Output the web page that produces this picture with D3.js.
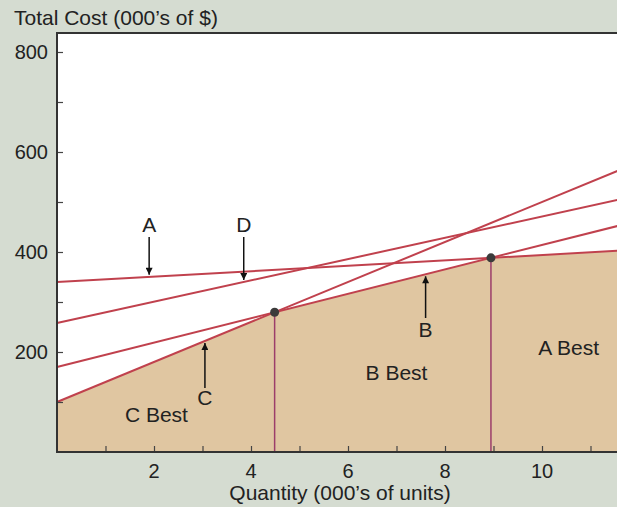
<!DOCTYPE html>
<html>
<head>
<meta charset="utf-8">
<script src="https://cdn.jsdelivr.net/npm/d3@7"></script>
<style>
  body { margin: 0; background: #d5dcd1; }
  svg { display: block; font-family: "Liberation Sans", Arial, sans-serif; }
</style>
</head>
<body>
<div id="chart"></div>
<script>
// options and their cost lines (000's of $): fixed + variable * quantity
const options = ["A", "B", "C", "D"];
const fixedCost = [340, 170, 100, 258];
const variableCost = [5.4, 24.4, 40, 21.3];

const yTicks = [200, 400, 600, 800];
const xTicks = [2, 4, 6, 8, 10];

// arrows pointing at each line: quantity, end of arrow tail (cost)
const arrowQ = [1.9, 7.6, 3.05, 3.85];
const arrowTail = [430, 268, 128, 430];
const arrowText = [454, 244, 108, 454];

const bestLabels = ["C Best", "B Best", "A Best"];
const bestQ = [2.05, 7.0, 10.55];
const bestCost = [74, 158, 208];

const width = 617, height = 507;
const margin = { top: 33, left: 57, bottom: 55 };

const svg = d3.select("#chart").append("svg")
  .attr("width", width)
  .attr("height", height);

const x = d3.scaleLinear().domain([0, 12]).range([margin.left, margin.left + 12 * 48.5]);
const y = d3.scaleLinear().domain([0, 838]).range([height - margin.bottom, margin.top]);

const cost = (i, q) => fixedCost[i] + variableCost[i] * q;

// plot background
svg.append("rect")
  .attr("x", x(0)).attr("y", y(838))
  .attr("width", x(12) - x(0)).attr("height", y(0) - y(838))
  .attr("fill", "#fff");

// lower envelope: vertices at pairwise intersections
let qs = [0, 12];
for (let i = 0; i < options.length; i++) {
  for (let j = i + 1; j < options.length; j++) {
    const q = (fixedCost[j] - fixedCost[i]) / (variableCost[i] - variableCost[j]);
    if (q > 0 && q < 12) qs.push(q);
  }
}
qs.sort((a, b) => a - b);
const minCost = q => d3.min(options, (o, i) => cost(i, q));
const best = q => d3.minIndex(options, (o, i) => cost(i, q));
const envelope = qs.map(q => [q, minCost(q)]);

svg.append("path")
  .datum(envelope)
  .attr("fill", "#e0c6a1")
  .attr("d", d3.area().x(d => x(d[0])).y0(y(0)).y1(d => y(d[1])));

// breakeven points where the best option changes
const breaks = qs.filter(q => q > 0 && q < 12 && best(q - 0.01) !== best(q + 0.01));

svg.selectAll(".drop")
  .data(breaks)
  .enter().append("line")
  .attr("x1", d => x(d)).attr("x2", d => x(d))
  .attr("y1", d => y(minCost(d))).attr("y2", y(0))
  .attr("stroke", "#9c3e6a")
  .attr("stroke-width", 1.5);

// cost lines
svg.selectAll(".cost")
  .data(options)
  .enter().append("line")
  .attr("x1", x(0)).attr("y1", (d, i) => y(cost(i, 0)))
  .attr("x2", x(12)).attr("y2", (d, i) => y(cost(i, 12)))
  .attr("stroke", "#c0414d")
  .attr("stroke-width", 2);

svg.selectAll(".dot")
  .data(breaks)
  .enter().append("circle")
  .attr("cx", d => x(d)).attr("cy", d => y(minCost(d)))
  .attr("r", 4.5)
  .attr("fill", "#3b3b3b");

// axes
const yAxis = svg.append("g")
  .attr("transform", `translate(${x(0)},0)`)
  .call(d3.axisRight(y).tickValues(d3.range(100, 801, 100)).tickSize(6).tickFormat(""));
yAxis.select(".domain").remove();
yAxis.selectAll("line").attr("stroke", "#444").attr("stroke-width", 1.2);

const xAxis = svg.append("g")
  .attr("transform", `translate(0,${y(0)})`)
  .call(d3.axisTop(x).tickValues(d3.range(1, 12)).tickSize(6).tickFormat(""));
xAxis.select(".domain").remove();
xAxis.selectAll("line").attr("stroke", "#444").attr("stroke-width", 1.2);

// frame: left, top, bottom
svg.append("path")
  .attr("d", `M${x(0)},${y(0)}V${y(838)}H${width}`)
  .attr("fill", "none").attr("stroke", "#333").attr("stroke-width", 2);
svg.append("line")
  .attr("x1", x(0) - 1).attr("x2", width)
  .attr("y1", y(0)).attr("y2", y(0))
  .attr("stroke", "#333").attr("stroke-width", 2);

svg.selectAll(".ylab")
  .data(yTicks)
  .enter().append("text")
  .attr("x", x(0) - 9).attr("y", d => y(d))
  .attr("dy", "0.35em")
  .attr("text-anchor", "end")
  .attr("font-size", 20)
  .attr("fill", "#222")
  .text(d => d);

svg.selectAll(".xlab")
  .data(xTicks)
  .enter().append("text")
  .attr("x", d => x(d)).attr("y", y(0) + 26)
  .attr("text-anchor", "middle")
  .attr("font-size", 20)
  .attr("fill", "#222")
  .text(d => d);

svg.append("text")
  .attr("x", 14).attr("y", 25)
  .attr("font-size", 21)
  .attr("fill", "#222")
  .text("Total Cost (000’s of $)");

svg.append("text")
  .attr("x", 340).attr("y", 500)
  .attr("text-anchor", "middle")
  .attr("font-size", 21)
  .attr("fill", "#222")
  .text("Quantity (000’s of units)");

// arrows
svg.append("defs").append("marker")
  .attr("id", "head")
  .attr("viewBox", "0 0 10 10")
  .attr("refX", 10).attr("refY", 5)
  .attr("markerWidth", 8).attr("markerHeight", 7)
  .attr("markerUnits", "userSpaceOnUse")
  .attr("orient", "auto")
  .append("path").attr("d", "M0,0L10,5L0,10z").attr("fill", "#111");

svg.selectAll(".arrow")
  .data(options)
  .enter().append("line")
  .attr("x1", (d, i) => x(arrowQ[i])).attr("x2", (d, i) => x(arrowQ[i]))
  .attr("y1", (d, i) => y(arrowTail[i]))
  .attr("y2", (d, i) => y(cost(i, arrowQ[i])) + (arrowTail[i] > cost(i, arrowQ[i]) ? -2 : 2))
  .attr("stroke", "#111")
  .attr("stroke-width", 1.5)
  .attr("marker-end", "url(#head)");

svg.selectAll(".arrowlab")
  .data(options)
  .enter().append("text")
  .attr("x", (d, i) => x(arrowQ[i])).attr("y", (d, i) => y(arrowText[i]))
  .attr("dy", "0.35em")
  .attr("text-anchor", "middle")
  .attr("font-size", 21)
  .attr("fill", "#222")
  .text(d => d);

svg.selectAll(".best")
  .data(bestLabels)
  .enter().append("text")
  .attr("x", (d, i) => x(bestQ[i])).attr("y", (d, i) => y(bestCost[i]))
  .attr("dy", "0.35em")
  .attr("text-anchor", "middle")
  .attr("font-size", 21)
  .attr("fill", "#222")
  .text(d => d);
</script>
</body>
</html>
